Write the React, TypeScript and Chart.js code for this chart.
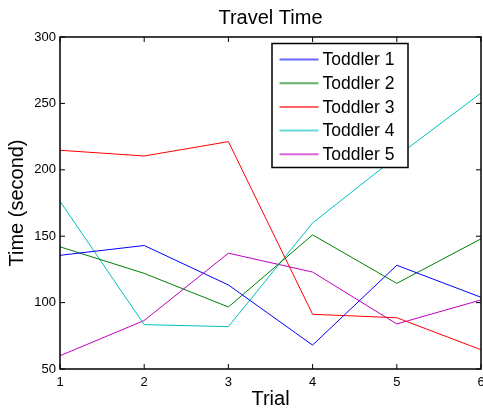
import React, { useEffect, useRef } from 'react';
import { Chart, registerables } from 'chart.js';

Chart.register(...registerables);

const chartTitle = 'Travel Time';
const xAxisTitle = 'Trial';
const yAxisTitle = 'Time (second)';

const trials = ['1', '2', '3', '4', '5', '6'];
const seriesNames = ['Toddler 1', 'Toddler 2', 'Toddler 3', 'Toddler 4', 'Toddler 5'];
const toddler1 = [135.6, 143, 113.3, 68, 128.1, 104];
const toddler2 = [142, 122, 96.7, 151, 114.5, 148];
const toddler3 = [214.7, 210.4, 221.2, 91.2, 88.6, 64.5];
const toddler4 = [176.3, 83.4, 81.9, 160, 210, 257.8];
const toddler5 = [60, 86.5, 137.2, 123, 83.9, 102];
const seriesColors = ['#0000ff', '#008000', '#ff0000', '#00bfbf', '#bf00bf'];

const yMin = 50;
const yMax = 300;
const yStep = 50;

const FONT = "'Liberation Sans', Arial, Helvetica, sans-serif";

const framePlugin = {
  id: 'matlabFrame',
  afterDatasetsDraw(chart: any) {
    const { ctx, chartArea: a, scales } = chart;
    ctx.save();
    ctx.strokeStyle = '#000';
    ctx.lineWidth = 1;
    const tl = 5;
    ctx.beginPath();
    scales.x.ticks.forEach((_t: any, i: number) => {
      const px = scales.x.getPixelForTick(i);
      ctx.moveTo(px, a.bottom);
      ctx.lineTo(px, a.bottom - tl);
      ctx.moveTo(px, a.top);
      ctx.lineTo(px, a.top + tl);
    });
    scales.y.ticks.forEach((_t: any, i: number) => {
      const py = scales.y.getPixelForTick(i);
      ctx.moveTo(a.left, py);
      ctx.lineTo(a.left + tl, py);
      ctx.moveTo(a.right, py);
      ctx.lineTo(a.right - tl, py);
    });
    ctx.stroke();
    ctx.lineWidth = 1.5;
    ctx.strokeRect(a.left, a.top, a.right - a.left, a.bottom - a.top);
    ctx.restore();
  },
};

const legendTitlePlugin = {
  id: 'boxLegendTitle',
  afterDraw(chart: any) {
    const { ctx, chartArea: a } = chart;
    ctx.save();
    // title
    ctx.fillStyle = '#000';
    ctx.font = `20px ${FONT}`;
    ctx.textAlign = 'center';
    ctx.textBaseline = 'middle';
    ctx.fillText(chartTitle, (a.left + a.right) / 2, 18);

    // legend box
    const bx = 272;
    const by = 43.5;
    const bw = 136;
    const bh = 124;
    ctx.fillStyle = '#fff';
    ctx.fillRect(bx, by, bw, bh);
    ctx.strokeStyle = '#000';
    ctx.lineWidth = 1.5;
    ctx.strokeRect(bx, by, bw, bh);
    ctx.font = `17.5px ${FONT}`;
    ctx.textAlign = 'left';
    ctx.textBaseline = 'middle';
    chart.data.datasets.forEach((ds: any, i: number) => {
      const cy = 59.5 + i * 23.7;
      ctx.strokeStyle = ds.borderColor;
      ctx.globalAlpha = 0.6;
      ctx.lineWidth = 2;
      ctx.beginPath();
      ctx.moveTo(279.5, cy);
      ctx.lineTo(318.5, cy);
      ctx.stroke();
      ctx.globalAlpha = 1;
      ctx.fillStyle = '#000';
      ctx.fillText(ds.label, 322.5, cy + 1);
    });
    ctx.restore();
  },
};

export default function App() {
  const canvasRef = useRef<HTMLCanvasElement | null>(null);

  useEffect(() => {
    if (!canvasRef.current) return;
    const seriesValues = [toddler1, toddler2, toddler3, toddler4, toddler5];
    const chart = new Chart(canvasRef.current, {
      type: 'line',
      data: {
        labels: trials,
        datasets: seriesNames.map((name, i) => ({
          label: name,
          data: seriesValues[i],
          borderColor: seriesColors[i],
          backgroundColor: seriesColors[i],
          borderWidth: 1,
          pointRadius: 0,
          tension: 0,
          fill: false,
        })),
      },
      options: {
        animation: false,
        responsive: false,
        devicePixelRatio: 1,
        events: [],
        layout: { padding: { top: 37, right: 19, left: 0, bottom: 0 } },
        plugins: {
          legend: { display: false },
          title: { display: false },
          tooltip: { enabled: false },
        },
        scales: {
          x: {
            type: 'category',
            offset: false,
            grid: { display: false, drawTicks: false },
            border: { display: false },
            ticks: {
              color: '#000',
              padding: 6,
              maxRotation: 0,
              autoSkip: false,
              font: { family: FONT, size: 13 },
            },
            title: {
              display: true,
              text: xAxisTitle,
              color: '#000',
              font: { family: FONT, size: 20 },
              padding: { top: 0, bottom: 1 },
            },
            afterFit: (scale: any) => {
              scale.height = 43;
            },
          },
          y: {
            type: 'linear',
            min: yMin,
            max: yMax,
            grid: { display: false, drawTicks: false },
            border: { display: false },
            ticks: {
              stepSize: yStep,
              color: '#000',
              padding: 4,
              font: { family: FONT, size: 13 },
            },
            title: {
              display: true,
              text: yAxisTitle,
              color: '#000',
              font: { family: FONT, size: 20 },
              padding: { top: 5.5, bottom: 0 },
            },
            afterFit: (scale: any) => {
              scale.width = 60;
            },
          },
        },
      },
      plugins: [framePlugin, legendTitlePlugin],
    });
    return () => chart.destroy();
  }, []);

  return (
    <div
      style={{
        position: 'fixed',
        left: 0,
        top: 0,
        width: 483,
        height: 412,
        overflow: 'hidden',
        background: '#fff',
      }}
    >
      <canvas ref={canvasRef} width={500} height={412} style={{ display: 'block' }} />
    </div>
  );
}
